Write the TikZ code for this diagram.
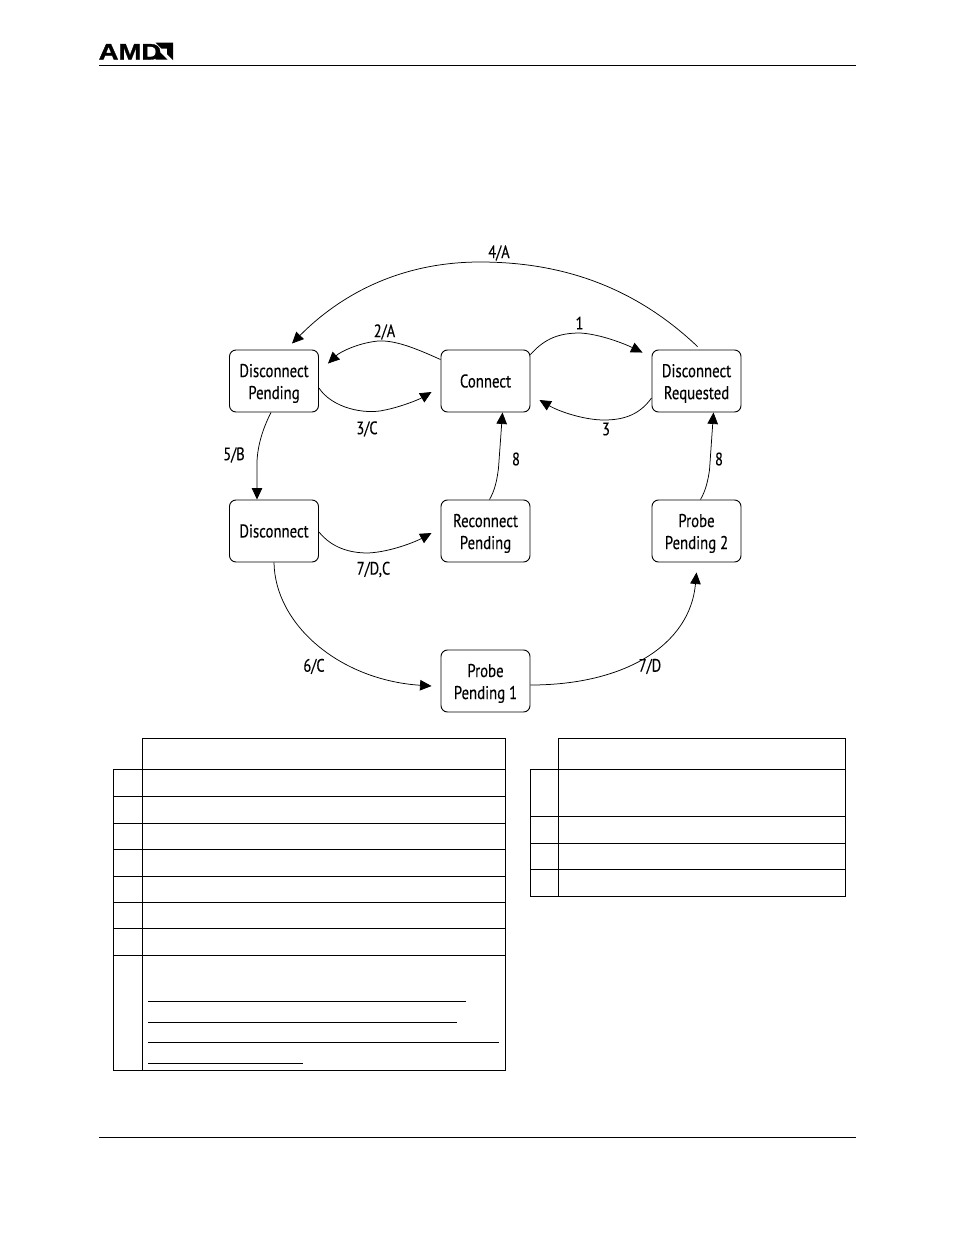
\documentclass[tikz,border=0pt]{standalone}
\usepackage{fontspec}
\setmainfont{PT Sans}[FakeStretch=0.8,FakeBold=0.25]
\newfontfamily\logofont{Liberation Sans}[FakeStretch=1.22,FakeBold=1.2]
\usetikzlibrary{arrows.meta}
% Extra height on a first line, so that two-line captions sit a little lower in the box
\newcommand{\firstline}{\rule{0pt}{18pt}}
\tikzset{
  statebox/.style={draw=black,line width=0.95pt,fill=white,rounded corners=6.5pt,minimum width=89pt,minimum height=62pt,
    inner sep=0pt,align=center,font=\fontsize{18.5}{22}\selectfont},
  trans/.style={draw=black,line width=0.75pt,-{Triangle[length=11.5pt,width=10.5pt]}},
  edgelabel/.style={inner sep=0pt,font=\fontsize{18}{20}\selectfont},
  rulepage/.style={line width=1pt},
  grid/.style={line width=1pt,line cap=rect},
  under/.style={line width=1pt}
}
\begin{document}
\begin{tikzpicture}[x=1pt,y=-1pt]
\useasboundingbox[fill=white] (0,0) rectangle (954,1235);

% Page furniture
\node[inner sep=0pt,anchor=base west,font=\logofont\bfseries\fontsize{22.5}{23}\selectfont] (logo) at (98.5,59.5) {AMD};
\fill[black] (155.5,42.5) -- (173,42.5) -- (173,60) -- (167,54) -- (167,48.5) -- (161.5,48.5) -- cycle;
\fill[black] (155.5,47.5) -- (161.5,53.5) -- (161.5,54) -- (162,54) -- (167.5,59.5) -- (155.5,59.5) -- cycle;
\draw[rulepage] (99,65) -- (856,65);
\draw[rulepage] (99,1137) -- (856,1137);

% State boxes
\node[statebox] (dp) at (274,381) {\firstline Disconnect\\Pending};
\node[statebox] (con) at (485.5,381) {Connect};
\node[statebox] (dr) at (696.5,381) {\firstline Disconnect\\Requested};
\node[statebox] (dis) at (274,531) {Disconnect};
\node[statebox] (rp) at (485.5,531) {\firstline Reconnect\\Pending};
\node[statebox] (pp2) at (696.5,531) {\firstline Probe\\Pending 2};
\node[statebox] (pp1) at (485.5,681) {\firstline Probe\\Pending 1};

% Transitions
\draw[trans] ([shift={(1,-3)}]dr.north) .. controls (640,292) and (570,262) .. (480,262)
  .. controls (400,262) and (340,295) .. ([shift={(18,-6)}]dp.north);
\draw[trans] ([yshift=-10pt]con.north west) .. controls (415,348) and (395,340) .. (378,341)
  .. controls (358,343) and (340,352) .. ([shift={(9,14)}]dp.north east);
\draw[trans] ([yshift=-7pt]dp.east) .. controls (332,408) and (365,415) .. (385,410)
  .. controls (400,407) and (418,400) .. ([shift={(-9,11)}]con.west);
\draw[trans] ([yshift=-5pt]con.north east) .. controls (545,338) and (560,333) .. (580,333)
  .. controls (600,334) and (625,344) .. ([shift={(-9,3)}]dr.north west);
\draw[trans] ([yshift=-17pt]dr.west) .. controls (640,414) and (625,420) .. (604,420)
  .. controls (585,420) and (560,412) .. ([shift={(9,19)}]con.east);
\draw[trans] ([xshift=-3pt]dp.south) .. controls (262,430) and (256,450) .. (257,470)
  -- ([xshift=-17pt]dis.north);
\draw[trans] ([shift={(4,0)}]rp.north) .. controls (495,490) and (497,480) .. (498.5,468)
  -- ([xshift=17pt]con.south);
\draw[trans] ([shift={(4,0)}]pp2.north) .. controls (706,490) and (708,480) .. (709.5,470)
  -- ([xshift=17pt]dr.south);
\draw[trans] ([yshift=-1pt]dis.east) .. controls (332,548) and (350,553) .. (368,553)
  .. controls (390,552) and (415,542) .. ([shift={(-9,2)}]rp.west);
\draw[trans] (dis.south) .. controls (275,625) and (340,680) .. ([shift={(-9,5)}]pp1.west);
\draw[trans] ([yshift=-4pt]pp1.east) .. controls (625,685) and (690,645) .. ([shift={(0,10)}]pp2.south);

% Transition labels
\node[edgelabel] (l4a) at (499,253) {4/A};
\node[edgelabel] (l2a) at (384.5,332) {2/A};
\node[edgelabel] (l1) at (579.5,323) {1};
\node[edgelabel] (l3c) at (367,429) {3/C};
\node[edgelabel] (l3) at (606,429) {3};
\node[edgelabel] (l5b) at (234,455) {5/B};
\node[edgelabel] (l8a) at (516,459) {8};
\node[edgelabel] (l8b) at (719,459) {8};
\node[edgelabel] (l7dc) at (373.5,569.5) {7/D,C};
\node[edgelabel] (l6c) at (314,666.5) {6/C};
\node[edgelabel] (l7d) at (650,666.5) {7/D};

% Left table ruling
\draw[grid] (142,738) -- (505,738) -- (505,1070) -- (113.5,1070) -- (113.5,769) -- (505,769);
\draw[grid] (142,738) -- (142,1070);
\foreach \yy in {796,823,849,876,902,928,955} \draw[grid] (113.5,\yy) -- (505,\yy);
\draw[under] (148,1001.5) -- (466,1001.5);
\draw[under] (148,1022.5) -- (457,1022.5);
\draw[under] (148,1042.5) -- (499,1042.5);
\draw[under] (148,1063.5) -- (303,1063.5);

% Right table ruling
\draw[grid] (558,738) -- (845.5,738) -- (845.5,896) -- (530.5,896) -- (530.5,769) -- (845.5,769);
\draw[grid] (558,738) -- (558,896);
\foreach \yy in {816,843,869} \draw[grid] (530.5,\yy) -- (845.5,\yy);
\end{tikzpicture}
\end{document}
